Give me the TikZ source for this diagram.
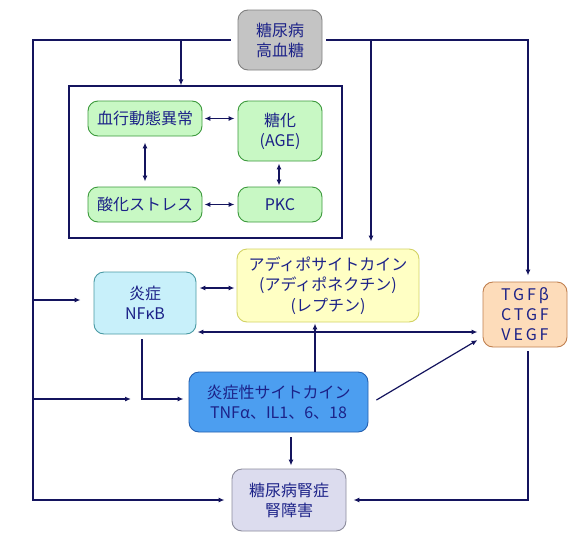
\documentclass[tikz,border=0pt]{standalone}
\usepackage{fontspec}
\setmainfont{Noto Sans CJK JP}
\usetikzlibrary{arrows.meta,calc}
\definecolor{txt}{HTML}{1C2288}
\definecolor{ln}{HTML}{14145E}
\definecolor{gfill}{HTML}{C4C4C4}\definecolor{gdraw}{HTML}{808080}
\definecolor{grfill}{HTML}{C8F8C4}\definecolor{grdraw}{HTML}{3C9A3C}
\definecolor{cyfill}{HTML}{C8F0FA}\definecolor{cydraw}{HTML}{4A9AA4}
\definecolor{yefill}{HTML}{FFFFC4}\definecolor{yedraw}{HTML}{D2D264}
\definecolor{orfill}{HTML}{FDDCBA}\definecolor{ordraw}{HTML}{C08050}
\definecolor{blfill}{HTML}{4C9EF0}\definecolor{bldraw}{HTML}{2460B0}
\definecolor{lvfill}{HTML}{DCDCEE}\definecolor{lvdraw}{HTML}{8C8C9C}
\begin{document}
\begin{tikzpicture}[x=1pt,y=-1pt,
  box/.style={rounded corners=10pt,line width=0.9pt,align=center,text=txt,
    font=\fontsize{16}{20}\selectfont,inner sep=0pt},
  ln/.style={draw=ln,line width=1.2pt},
  arr/.style={ln,-{Latex[length=6pt,width=5pt]}},
  darr/.style={ln,{Latex[length=6pt,width=5pt]}-{Latex[length=6pt,width=5pt]}}]
\useasboundingbox[fill=white] (0,0) rectangle (588,541);
% nodes
\node[box,fill=gfill,draw=gdraw,minimum width=84pt,minimum height=60pt] (top) at (280,40) {糖尿病\\高血糖};
\node[draw=ln,line width=1.1pt,minimum width=273pt,minimum height=152pt,inner sep=0pt] (frame) at (205.5,162) {};
\node[box,fill=grfill,draw=grdraw,minimum width=114pt,minimum height=35pt] (hemo) at (145,118.5) {血行動態異常};
\node[box,fill=grfill,draw=grdraw,minimum width=84pt,minimum height=60pt] (age) at (280,131) {糖化\\(AGE)};
\node[box,fill=grfill,draw=grdraw,minimum width=114pt,minimum height=35pt] (ox) at (145,204.5) {酸化ストレス};
\node[box,fill=grfill,draw=grdraw,minimum width=84pt,minimum height=35pt] (pkc) at (280,204.5) {PKC};
\node[box,fill=cyfill,draw=cydraw,minimum width=102pt,minimum height=62pt] (nfkb) at (145,303) {炎症\\NFκB};
\node[box,fill=yefill,draw=yedraw,minimum width=182pt,minimum height=73pt,font=\fontsize{16}{20.5}\selectfont] (adipo) at (328,285.5) {アディポサイトカイン\\(アディポネクチン)\\(レプチン)};
\node[box,fill=orfill,draw=ordraw,minimum width=84pt,minimum height=65pt] (tgf) at (525,314.5) {\addfontfeature{LetterSpace=18}TGFβ\\\addfontfeature{LetterSpace=18}CTGF\\\addfontfeature{LetterSpace=18}VEGF};
\node[box,fill=blfill,draw=bldraw,minimum width=179pt,minimum height=60pt] (cyto) at (278.5,402) {炎症性サイトカイン\\TNFα、IL1、6、18};
\node[box,fill=lvfill,draw=lvdraw,minimum width=114pt,minimum height=62pt] (kid) at (289,500) {糖尿病腎症\\腎障害};
% free ends
\coordinate (mid) at (131,399);
% left trunk
\draw[arr,shorten <=7pt,shorten >=7pt] (top.west) -- (33,40) |- (kid.west);
\draw[arr] (181,40) -- (frame.north -| 181,0);
\draw[arr,shorten >=13pt] (33,300) -- (nfkb.west |- 0,300);
\draw[arr] (33,399) -- (mid);
% right trunk
\draw[arr,shorten <=4pt,shorten >=6pt] (top.east) -| (tgf.north -| 528,0);
\draw[arr,shorten >=7pt] (371,40) -- (adipo.north -| 371,0);
% inner frame
\draw[darr,shorten <=2pt,shorten >=3pt] (hemo.east) -- (age.west |- hemo.east);
\draw[darr,shorten <=6pt,shorten >=5pt] (hemo.south) -- (ox.north);
\draw[darr,shorten <=2pt,shorten >=1pt] (age.south -| 279,0) -- (pkc.north -| 279,0);
\draw[darr,shorten <=2pt,shorten >=3pt] (ox.east) -- (pkc.west);
% middle
\draw[darr,shorten <=3pt,shorten >=2pt] (nfkb.east |- 0,288) -- (adipo.west |- 0,288);
\draw[darr,shorten <=1pt,shorten >=5pt] (nfkb.east |- 0,332) -- (tgf.west |- 0,332);
\draw[arr,shorten >=1pt] (cyto.north -| 315,0) -- (adipo.south -| 315,0);
\draw[arr] ($(cyto.east)+(8,-2)$) -- ($(tgf.west)+(-5,25.5)$);
\draw[arr,shorten <=5pt,shorten >=5pt] (nfkb.south -| 142,0) |- (cyto.west |- 0,399);
\draw[arr,shorten <=5pt,shorten >=3pt] (cyto.south -| 291,0) -- (kid.north -| 291,0);
\draw[arr,shorten <=4pt,shorten >=7pt] (tgf.south -| 528,0) |- (kid.east);
\end{tikzpicture}
\end{document}
